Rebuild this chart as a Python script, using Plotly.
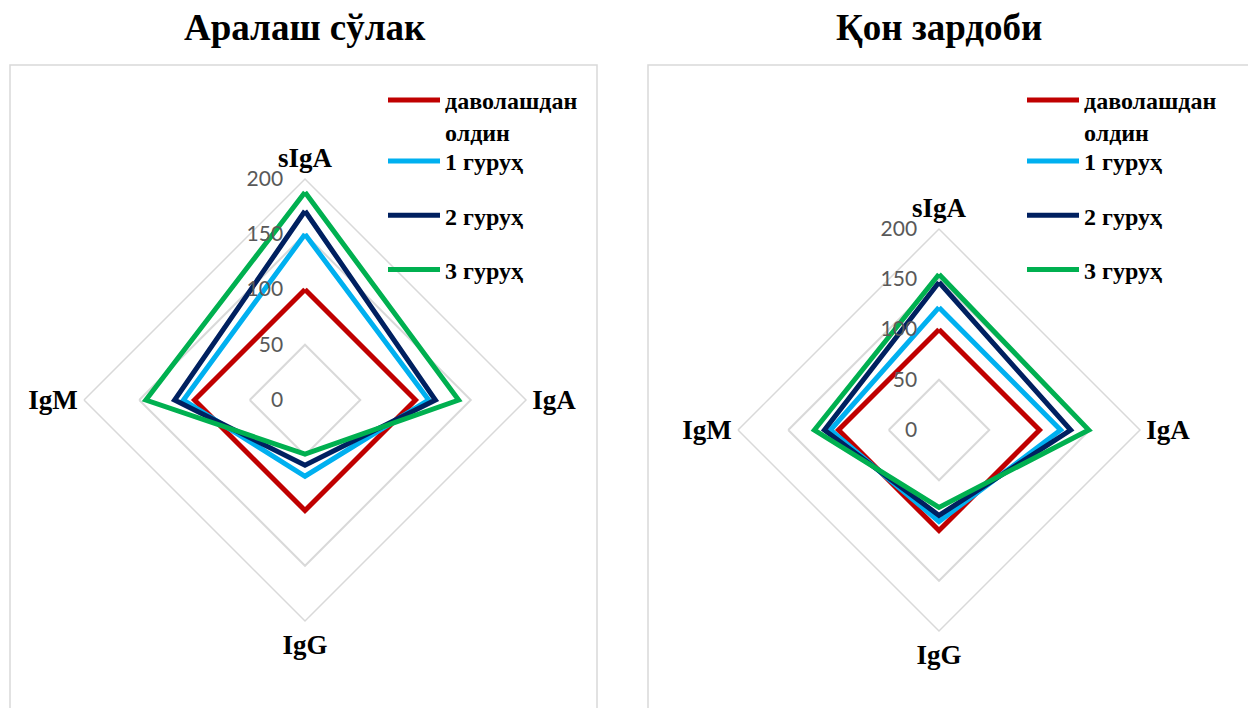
import plotly.graph_objects as go

# Immunoglobulin axes (clockwise from the top)
categories = ["sIgA", "IgA", "IgG", "IgM"]

# Series labels and colours
series_names = ["даволашдан<br>олдин", "1 гуруҳ", "2 гуруҳ", "3 гуруҳ"]
series_colors = ["#C00000", "#00B0F0", "#002060", "#00B050"]

# Mixed saliva (Аралаш сўлак)
saliva_before = [100, 100, 100, 100]
saliva_group1 = [150, 112, 69, 110]
saliva_group2 = [171, 118, 59, 118]
saliva_group3 = [188, 139, 49, 144]

# Blood serum (Қон зардоби)
serum_before = [100, 100, 100, 100]
serum_group1 = [122, 121, 91, 108]
serum_group2 = [147, 131, 85, 114]
serum_group3 = [155, 149, 77, 124]

radial_ticks = [0, 50, 100, 150, 200]

W, H = 1248, 708


def px_x(x):
    return x / W


def px_y(y):
    return 1 - y / H


saliva = [saliva_before, saliva_group1, saliva_group2, saliva_group3]
serum = [serum_before, serum_group1, serum_group2, serum_group3]

fig = go.Figure()


def closed(values):
    return list(values) + [values[0]]


for i, (name, color, vals) in enumerate(zip(series_names, series_colors, saliva)):
    fig.add_trace(go.Scatterpolar(
        r=closed(vals), theta=closed(categories), mode="lines", name=name,
        line=dict(color=color, width=5), subplot="polar",
        legend="legend" if i == 0 else "legend2", legendgroup=f"a{i}",
        hoverinfo="skip",
    ))

for i, (name, color, vals) in enumerate(zip(series_names, series_colors, serum)):
    fig.add_trace(go.Scatterpolar(
        r=closed(vals), theta=closed(categories), mode="lines", name=name,
        line=dict(color=color, width=5), subplot="polar2",
        legend="legend3" if i == 0 else "legend4", legendgroup=f"b{i}",
        hoverinfo="skip",
    ))

grid_color = "#D9D9D9"
angular_font = dict(family="Liberation Serif", size=27, color="black", weight="bold")
radial_font = dict(family="Lato", size=21, color="#595959")


def polar_layout(cx, cy, rad):
    return dict(
        domain=dict(x=[px_x(cx - rad), px_x(cx + rad)],
                    y=[px_y(cy + rad), px_y(cy - rad)]),
        gridshape="linear",
        bgcolor="white",
        angularaxis=dict(
            categoryarray=categories, categoryorder="array",
            rotation=90, direction="clockwise",
            showgrid=False, showline=True, linecolor=grid_color, linewidth=1.5,
            ticks="", tickfont=angular_font,
        ),
        radialaxis=dict(
            range=[0, 200], tickvals=radial_ticks, angle=90,
            side="counterclockwise", showline=False,
            ticks="outside", ticklen=14, tickcolor="rgba(0,0,0,0)",
            gridcolor=grid_color, gridwidth=1.5, tickfont=radial_font,
            tickangle=90,
        ),
    )


legend_font = dict(family="Liberation Serif", size=24, color="black", weight="bold")


def legend_box(x, y, gap=0):
    return dict(
        x=px_x(x), y=px_y(y), xanchor="left", yanchor="top",
        font=legend_font, bgcolor="rgba(0,0,0,0)", borderwidth=0,
        itemwidth=52, valign="top", tracegroupgap=gap,
        traceorder="grouped",
    )


title_font = dict(family="Liberation Serif", size=37, color="black", weight="bold")

fig.update_layout(
    width=W, height=H,
    margin=dict(l=0, r=0, t=0, b=0),
    paper_bgcolor="white",
    showlegend=True,
    polar=polar_layout(305, 400, 221),
    polar2=polar_layout(939, 430, 201),
    legend=legend_box(383, 78),
    legend2=legend_box(383, 139, gap=20),
    legend3=legend_box(1022, 78),
    legend4=legend_box(1022, 139, gap=20),
    shapes=[
        dict(type="rect", xref="paper", yref="paper",
             x0=px_x(10), x1=px_x(597), y0=-0.05, y1=px_y(65),
             line=dict(color=grid_color, width=1.5), layer="below"),
        dict(type="rect", xref="paper", yref="paper",
             x0=px_x(648), x1=1.05, y0=-0.05, y1=px_y(65),
             line=dict(color=grid_color, width=1.5), layer="below"),
    ],
    annotations=[
        dict(text="Аралаш сўлак", x=px_x(305), y=px_y(28), xref="paper", yref="paper",
             showarrow=False, font=title_font, xanchor="center", yanchor="middle"),
        dict(text="Қон зардоби", x=px_x(939), y=px_y(28), xref="paper", yref="paper",
             showarrow=False, font=title_font, xanchor="center", yanchor="middle"),
    ],
)

fig.write_html("out.html")
